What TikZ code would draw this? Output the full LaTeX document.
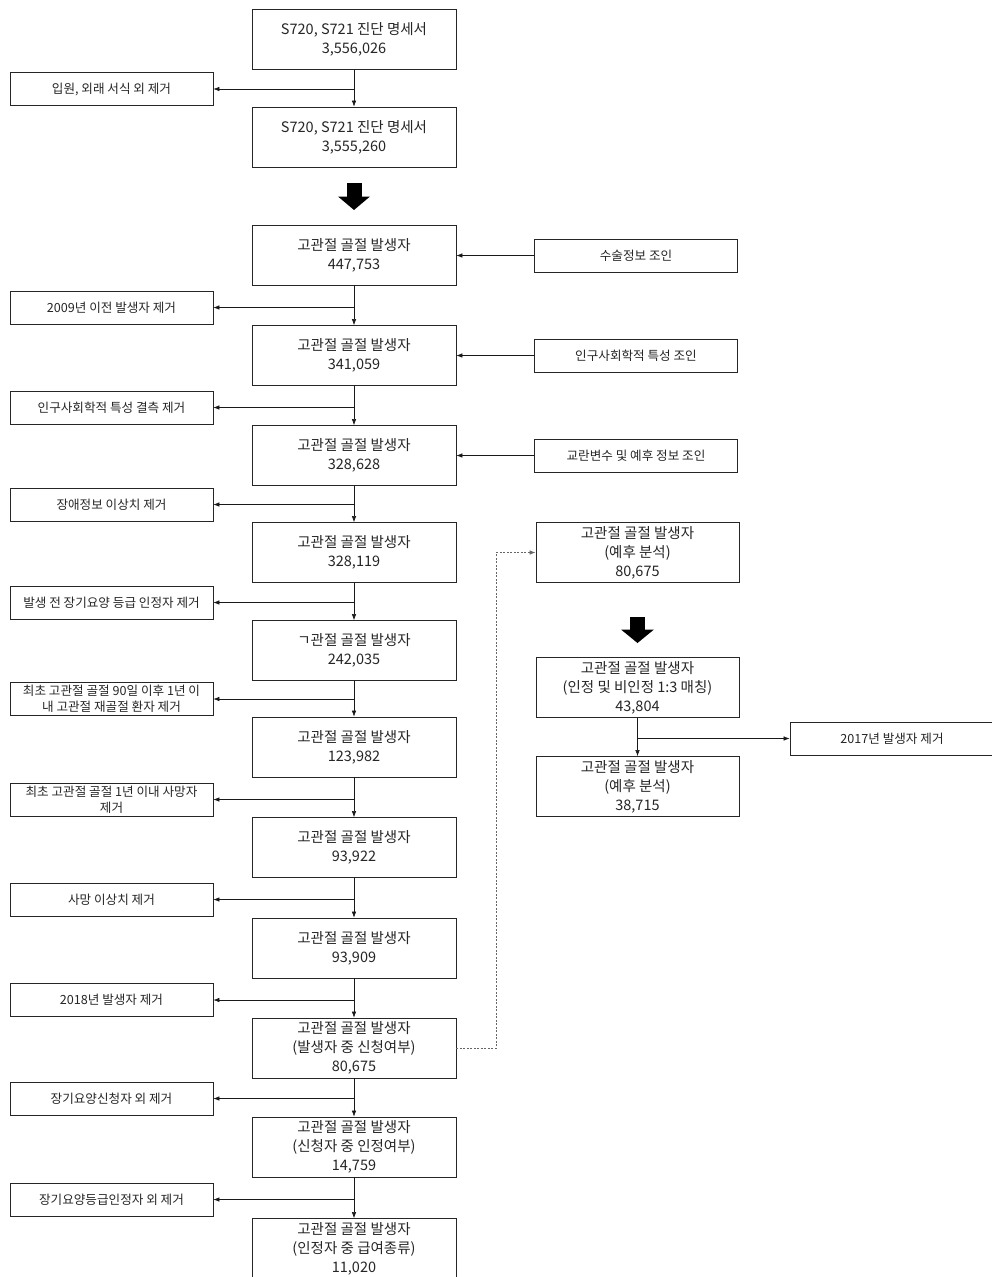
\documentclass[tikz,border=0pt]{standalone}
\usepackage{fontspec}
\setmainfont{Noto Sans CJK KR}
\usetikzlibrary{arrows.meta}
\begin{document}
\begin{tikzpicture}[x=1pt,y=-1pt,
  mainbox/.style={draw=black!85, line width=0.8pt, minimum width=204pt, minimum height=60pt, inner sep=0pt, align=center, font=\fontsize{14.5}{19}\selectfont, text=black!85},
  sidebox/.style={draw=black!85, line width=0.8pt, minimum width=203pt, minimum height=33pt, inner sep=0pt, align=center, font=\fontsize{12.6}{16}\selectfont, text=black!85},
  arr/.style={-{Latex[length=6pt,width=4.5pt]}, line width=0.6pt, draw=black!90},
  dotarr/.style={-{Latex[length=6pt,width=4.5pt]}, line width=0.8pt, draw=black!60, dash pattern=on 2pt off 1.5pt},
  blockarrow/.style={fill=black}]
\useasboundingbox (0,0) rectangle (991,1277);
\fill[white] (0,0) rectangle (991,1277);

% main column
\node[mainbox] (m1) at (354,39.5) {S720, S721 진단 명세서\\3,556,026};
\node[mainbox] (m2) at (354,137) {S720, S721 진단 명세서\\3,555,260};
\node[mainbox] (m3) at (354,255) {고관절 골절 발생자\\447,753};
\node[mainbox] (m4) at (354,355.5) {고관절 골절 발생자\\341,059};
\node[mainbox] (m5) at (354,455.5) {고관절 골절 발생자\\328,628};
\node[mainbox] (m6) at (354,552.5) {고관절 골절 발생자\\328,119};
\node[mainbox] (m7) at (354,650.5) {ㄱ관절 골절 발생자\\242,035};
\node[mainbox] (m8) at (354,747) {고관절 골절 발생자\\123,982};
\node[mainbox] (m9) at (354,847.5) {고관절 골절 발생자\\93,922};
\node[mainbox] (m10) at (354,948) {고관절 골절 발생자\\93,909};
\node[mainbox] (m11) at (354,1048) {고관절 골절 발생자\\(발생자 중 신청여부)\\80,675};
\node[mainbox] (m12) at (354,1147) {고관절 골절 발생자\\(신청자 중 인정여부)\\14,759};
\node[mainbox] (m13) at (354,1248.5) {고관절 골절 발생자\\(인정자 중 급여종류)\\11,020};

% left exclusion boxes
\node[sidebox] (l1) at (111.5,89) {입원, 외래 서식 외 제거};
\node[sidebox] (l2) at (111.5,307.5) {2009년 이전 발생자 제거};
\node[sidebox] (l3) at (111.5,407.5) {인구사회학적 특성 결측 제거};
\node[sidebox] (l4) at (111.5,504.5) {장애정보 이상치 제거};
\node[sidebox] (l5) at (111.5,602.5) {발생 전 장기요양 등급 인정자 제거};
\node[sidebox] (l6) at (111.5,699) {최초 고관절 골절 90일 이후 1년 이\\내 고관절 재골절 환자 제거};
\node[sidebox] (l7) at (111.5,799.5) {최초 고관절 골절 1년 이내 사망자\\제거};
\node[sidebox] (l8) at (111.5,899.5) {사망 이상치 제거};
\node[sidebox] (l9) at (111.5,1000) {2018년 발생자 제거};
\node[sidebox] (l10) at (111.5,1098.5) {장기요양신청자 외 제거};
\node[sidebox] (l11) at (111.5,1199.5) {장기요양등급인정자 외 제거};

% right join boxes
\node[sidebox] (r1) at (636,255.5) {수술정보 조인};
\node[sidebox] (r2) at (636,355.5) {인구사회학적 특성 조인};
\node[sidebox] (r3) at (636,455.5) {교란변수 및 예후 정보 조인};

% right analysis column
\node[mainbox, minimum width=203pt] (p1) at (637.5,552.5) {고관절 골절 발생자\\(예후 분석)\\80,675};
\node[mainbox, minimum width=203pt] (p2) at (637.5,687.5) {고관절 골절 발생자\\(인정 및 비인정 1:3 매칭)\\43,804};
\node[mainbox, minimum width=203pt] (p3) at (637.5,786.5) {고관절 골절 발생자\\(예후 분석)\\38,715};
\node[sidebox, minimum width=204pt] (x1) at (892,738.5) {2017년 발생자 제거};

% vertical flow arrows
\draw[arr] (m1.south) -- (m2.north);
\draw[arr] (m3.south) -- (m4.north);
\draw[arr] (m4.south) -- (m5.north);
\draw[arr] (m5.south) -- (m6.north);
\draw[arr] (m6.south) -- (m7.north);
\draw[arr] (m7.south) -- (m8.north);
\draw[arr] (m8.south) -- (m9.north);
\draw[arr] (m9.south) -- (m10.north);
\draw[arr] (m10.south) -- (m11.north);
\draw[arr] (m11.south) -- (m12.north);
\draw[arr] (m12.south) -- (m13.north);
\draw[arr] (p2.south) -- (p3.north);

% exclusion branches
\draw[arr] (m1.south |- l1.east) -- (l1.east);
\draw[arr] (m3.south |- l2.east) -- (l2.east);
\draw[arr] (m4.south |- l3.east) -- (l3.east);
\draw[arr] (m5.south |- l4.east) -- (l4.east);
\draw[arr] (m6.south |- l5.east) -- (l5.east);
\draw[arr] (m7.south |- l6.east) -- (l6.east);
\draw[arr] (m8.south |- l7.east) -- (l7.east);
\draw[arr] (m9.south |- l8.east) -- (l8.east);
\draw[arr] (m10.south |- l9.east) -- (l9.east);
\draw[arr] (m11.south |- l10.east) -- (l10.east);
\draw[arr] (m12.south |- l11.east) -- (l11.east);
\draw[arr] (p2.south |- x1.west) -- (x1.west);

% join arrows
\draw[arr] (r1.west) -- (r1.west -| m3.east);
\draw[arr] (r2.west) -- (r2.west -| m4.east);
\draw[arr] (r3.west) -- (r3.west -| m5.east);

% dashed link
\draw[dotarr] (m11.east) -- ++(40,0) |- (p1.west);

% block arrows
\fill[blockarrow] (346.5,183) rectangle (361.5,197);
\fill[blockarrow] (338,196.5) -- (370,196.5) -- (354,210) -- cycle;
\fill[blockarrow] (630,617) rectangle (645,630);
\fill[blockarrow] (621,629.5) -- (654,629.5) -- (637.5,643) -- cycle;
\end{tikzpicture}
\end{document}
